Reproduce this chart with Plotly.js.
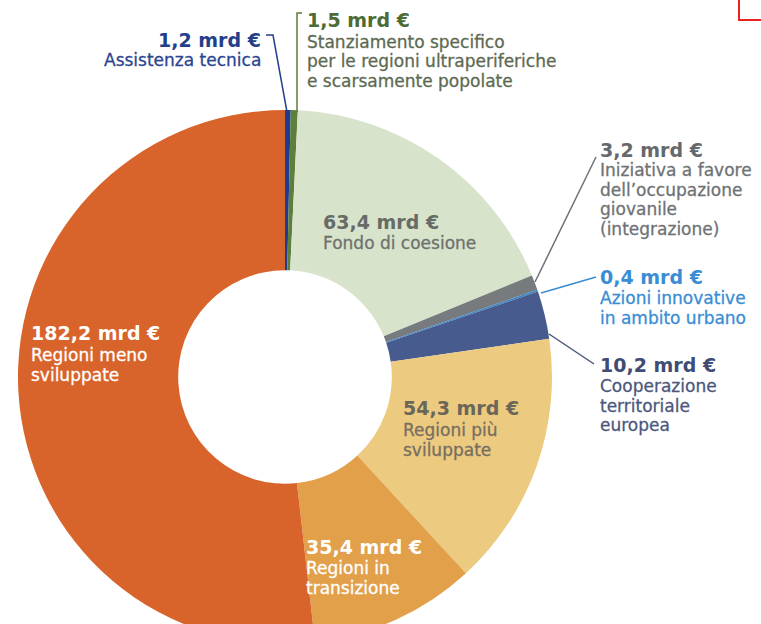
<!DOCTYPE html>
<html>
<head>
<meta charset="utf-8">
<script src="https://cdn.plot.ly/plotly-3.0.1.min.js"></script>
<style>
html,body{margin:0;padding:0;overflow:hidden;background:#fff;}
#chart{width:761px;height:660px;}
</style>
</head>
<body>
<div id="chart"></div>
<script>
// Data (billion EUR), clockwise from 12 o'clock
const categories = [
  "Assistenza tecnica",
  "Stanziamento specifico per le regioni ultraperiferiche e scarsamente popolate",
  "Fondo di coesione",
  "Iniziativa a favore dell'occupazione giovanile (integrazione)",
  "Azioni innovative in ambito urbano",
  "Cooperazione territoriale europea",
  "Regioni più sviluppate",
  "Regioni in transizione",
  "Regioni meno sviluppate"
];
const values = [1.2, 1.5, 63.4, 3.2, 0.4, 10.2, 54.3, 35.4, 182.2];
const valueLabels = ["1,2 mrd €", "1,5 mrd €", "63,4 mrd €", "3,2 mrd €", "0,4 mrd €", "10,2 mrd €", "54,3 mrd €", "35,4 mrd €", "182,2 mrd €"];
const descLabels = [
  "Assistenza tecnica",
  "Stanziamento specifico<br>per le regioni ultraperiferiche<br>e scarsamente popolate",
  "Fondo di coesione",
  "Iniziativa a favore<br>dell’occupazione<br>giovanile<br>(integrazione)",
  "Azioni innovative<br>in ambito urbano",
  "Cooperazione<br>territoriale<br>europea",
  "Regioni più<br>sviluppate",
  "Regioni in<br>transizione",
  "Regioni meno<br>sviluppate"
];
const sliceColors = ["#1f3d8e", "#5e7e3b", "#d8e3cc", "#777b7d", "#3d87c9", "#475b8e", "#ecca80", "#e2a04a", "#d9642b"];

const W = 761, H = 660;
const px = x => x / W;
const py = y => 1 - y / H;

// label layout: [x, yValueCenter, anchor, valueColor, descColor, firstDescLineCenter]
const labelPos = [
  [263, 40, "right", "#233f8c", "#2b4590", 60],
  [305, 20, "left", "#4d6b33", "#5d6a52", 42],
  [321, 222, "left", "#676b66", "#6e726c", 243],
  [598, 150, "left", "#65696b", "#6e7274", 170],
  [598, 277, "left", "#3a8dd4", "#3a8dd4", 298],
  [598, 365, "left", "#3f4c74", "#4b587c", 386],
  [401, 408, "left", "#6a6659", "#776f5f", 430],
  [304, 547, "left", "#ffffff", "#ffffff", 568],
  [29, 333, "left", "#ffffff", "#ffffff", 355]
];
const LINE = 19.5;

const annotations = [];
labelPos.forEach((p, i) => {
  annotations.push({
    xref: "paper", yref: "paper", x: px(p[0]), y: py(p[1]),
    xanchor: p[2], yanchor: "middle", showarrow: false, align: p[2],
    text: "<b>" + valueLabels[i] + "</b>",
    font: {family: "DejaVu Sans", size: 19, color: p[3]}
  });
  descLabels[i].split("<br>").forEach((line, k) => {
    annotations.push({
      xref: "paper", yref: "paper", x: px(p[0]), y: py(p[5] + k * LINE),
      xanchor: p[2], yanchor: "middle", showarrow: false, align: p[2],
      text: line,
      font: {family: "DejaVu Sans", size: 17, color: p[4]}
    });
  });
});

function seg(pts, color) {
  let d = "";
  pts.forEach((q, k) => { d += (k ? " L " : "M ") + px(q[0]) + "," + py(q[1]); });
  return {type: "path", xref: "paper", yref: "paper", path: d, line: {color: color, width: 1.5}};
}

const shapes = [
  seg([[266, 35], [273, 35], [287, 112]], "#233f8c"),
  seg([[302, 13], [297, 13], [297, 112]], "#5e7e3b"),
  seg([[596, 157], [535, 282]], "#6e7274"),
  seg([[596, 277], [541, 293]], "#3a8dd4"),
  seg([[594, 364], [549, 334]], "#4b587c"),
  {type: "path", xref: "paper", yref: "paper",
   path: "M " + px(739) + "," + py(0) + " L " + px(739) + "," + py(20) + " L " + px(761) + "," + py(20),
   line: {color: "#e8231f", width: 2}}
];

const R = 267, CX = 285, CY = 377;
const trace = {
  type: "pie",
  labels: categories,
  values: values,
  sort: false,
  direction: "clockwise",
  rotation: 0,
  hole: 0.40,
  textinfo: "none",
  hoverinfo: "label+value",
  marker: {colors: sliceColors, line: {width: 0}},
  domain: {x: [px(CX - R), px(CX + R)], y: [py(CY + R), py(CY - R)]},
  showlegend: false
};

Plotly.newPlot("chart", [trace], {
  width: W, height: H,
  margin: {l: 0, r: 0, t: 0, b: 0},
  paper_bgcolor: "#ffffff",
  showlegend: false,
  annotations: annotations,
  shapes: shapes
}, {displayModeBar: false, staticPlot: true}).then(() => {
  // give description text a medium weight like the original
  document.querySelectorAll(".annotation-text").forEach(t => {
    if (t.innerHTML.indexOf("<b") < 0 && t.innerHTML.indexOf("font-weight") < 0) {
      const f = t.style.fill;
      t.style.stroke = f;
      t.style.strokeWidth = "0.3px";
    }
  });
});
</script>
</body>
</html>
